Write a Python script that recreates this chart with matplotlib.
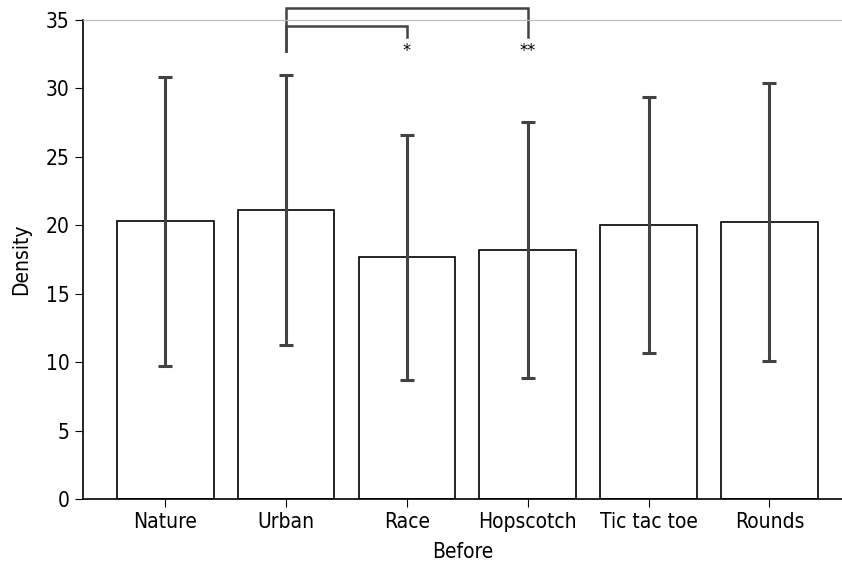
import numpy as np
import matplotlib.pyplot as plt

plt.rcParams['font.family'] = 'DejaVu Sans'
plt.rcParams['font.stretch'] = 'condensed'

# Bar chart of density per game (before), with sd error bars and significance brackets
categories = ['Nature', 'Urban', 'Race', 'Hopscotch', 'Tic tac toe', 'Rounds']
means = [20.3, 21.1, 17.65, 18.2, 20.0, 20.25]
sds = [10.55, 9.85, 8.95, 9.35, 9.35, 10.15]

# significance brackets: (from index, to index, label)
pairs = [(1, 2, '*'), (1, 3, '**')]
bracket_tops = [34.55, 35.9]

fig = plt.figure(figsize=(8.42, 5.65), dpi=100)
ax = fig.add_axes([83 / 842, 66 / 565, 1 - 83 / 842, (545 - 66) / 565])

x = np.arange(len(categories))
ax.bar(x, means, width=0.8, color='white', edgecolor='black', linewidth=1.2)
ax.errorbar(x, means, yerr=sds, fmt='none', ecolor='#424242',
            elinewidth=2.2, capsize=5, capthick=2.2)

# brackets from Urban to the others
for (i, j, label), top in zip(pairs, bracket_tops):
    ax.plot([x[i], x[i], x[j], x[j]], [32.7, top, top, 33.75],
            color='#444444', lw=1.8, clip_on=False, solid_joinstyle='miter')
    ax.text(x[j], 32.75, label, ha='center', va='center', fontsize=13)

fs = 15
ax.set_xlim(-0.68, 5.6)
ax.set_ylim(0, 35)
ax.set_yticks(range(0, 36, 5))
ax.set_xticks(x)
ax.set_xticklabels(categories, fontsize=fs)
ax.tick_params(axis='y', labelsize=fs)
ax.tick_params(length=6)
ax.set_xlabel('Before', fontsize=fs, labelpad=7)
ax.set_ylabel('Density', fontsize=fs, labelpad=11)

ax.spines['right'].set_visible(False)
ax.spines['top'].set_color('#bbbbbb')
ax.spines['top'].set_linewidth(0.8)
ax.spines['left'].set_linewidth(1.2)
ax.spines['bottom'].set_linewidth(1.2)

fig.savefig('out.png', dpi=100)
